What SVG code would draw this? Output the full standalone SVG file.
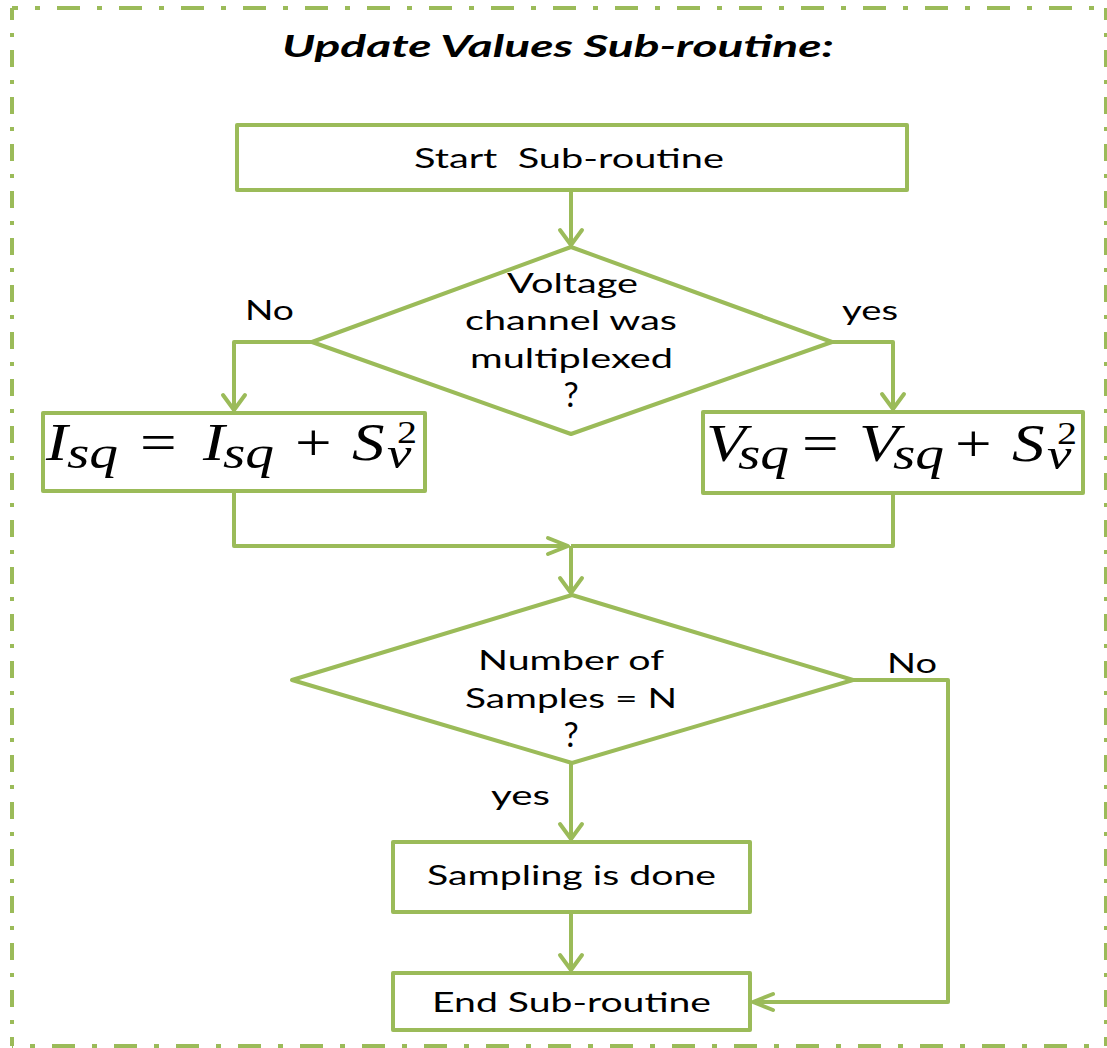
<svg xmlns="http://www.w3.org/2000/svg" width="1107" height="1048" viewBox="0 0 1107 1048">
<style>
.bd{stroke:#9BBB59;stroke-width:4;fill:none}
.hz{stroke-dasharray:23 17 5 17}
.vt{stroke-dasharray:17 13 4 13}
.nd{fill:#fff;stroke:#9BBB59;stroke-width:4;stroke-linejoin:round}
.cn{fill:none;stroke:#9BBB59;stroke-width:4;stroke-linejoin:round}
.t{font-family:Lato,"Liberation Sans",sans-serif;font-size:27px;fill:#000}
.q{font-family:Lato,"Liberation Sans",sans-serif;font-size:34px;fill:#000}
.ttl{font-family:Lato,"Liberation Sans",sans-serif;font-size:30px;font-weight:bold;font-style:italic;fill:#000}
.m{font-family:"Liberation Serif","DejaVu Serif",serif;fill:#000}
.i{font-style:italic}
</style>
<defs>
<marker id="av" markerUnits="userSpaceOnUse" viewBox="-18 -14 20 28" refX="0" refY="0" markerWidth="20" markerHeight="28" orient="auto" overflow="visible">
<path d="M-15,-11 L0,0 L-15,11" fill="none" stroke="#9BBB59" stroke-width="4" stroke-linecap="round" stroke-linejoin="round"/>
</marker>
<marker id="ahz" markerUnits="userSpaceOnUse" viewBox="-22 -10 24 20" refX="0" refY="0" markerWidth="24" markerHeight="20" orient="auto" overflow="visible">
<path d="M-20,-8 L0,0 L-20,8" fill="none" stroke="#9BBB59" stroke-width="4" stroke-linecap="round" stroke-linejoin="round"/>
</marker>
</defs>
<rect x="0" y="0" width="1107" height="1048" fill="#fff"/>
<g id="border">
<line class="bd hz" x1="12" y1="8" x2="1106" y2="8" stroke-dashoffset="17"/>
<line class="bd vt" x1="12" y1="8" x2="12" y2="1046" stroke-dashoffset="5"/>
<line class="bd vt" x1="1106" y1="8" x2="1106" y2="1046" stroke-dashoffset="5"/>
<line class="bd hz" x1="12" y1="1046" x2="1106" y2="1046" stroke-dashoffset="22"/>
</g>
<text id="title" class="ttl" x="282" y="57" textLength="552" lengthAdjust="spacingAndGlyphs">Update Values Sub-routine:</text>
<g id="connectors">
<path class="cn" d="M571,190 V245" marker-end="url(#av)"/>
<path class="cn" d="M312,342 H234 V410" marker-end="url(#av)"/>
<path class="cn" d="M832,342 H893 V409" marker-end="url(#av)"/>
<path class="cn" d="M234,491 V546 H568" marker-end="url(#ahz)"/>
<path class="cn" d="M893,493 V546 H571"/>
<path class="cn" d="M571,546 V593" marker-end="url(#av)"/>
<path class="cn" d="M571,763 V839" marker-end="url(#av)"/>
<path class="cn" d="M571,912 V970" marker-end="url(#av)"/>
<path class="cn" d="M853,680 H948 V1002 H753" marker-end="url(#ahz)"/>
<text class="t" x="245" y="320" textLength="49" lengthAdjust="spacingAndGlyphs">No</text>
<text class="t" x="842" y="320" textLength="56" lengthAdjust="spacingAndGlyphs">yes</text>
<text class="t" x="887" y="673" textLength="50" lengthAdjust="spacingAndGlyphs">No</text>
<text class="t" x="491" y="805" textLength="59" lengthAdjust="spacingAndGlyphs">yes</text>
</g>
<g id="start">
<rect class="nd" x="237" y="125" width="670" height="65"/>
<text class="t" x="414" y="168" textLength="310" lengthAdjust="spacingAndGlyphs" xml:space="preserve">Start  Sub-routine</text>
</g>
<g id="decision1">
<polygon class="nd" points="571,247 832,342 571,434 312,342"/>
<text class="t" x="507" y="293" textLength="131" lengthAdjust="spacingAndGlyphs">Voltage</text>
<text class="t" x="465" y="330" textLength="212" lengthAdjust="spacingAndGlyphs">channel was</text>
<text class="t" x="470" y="368" textLength="203" lengthAdjust="spacingAndGlyphs">multiplexed</text>
<text class="q" x="571" y="407" text-anchor="middle">?</text>
</g>
<g id="isq">
<rect class="nd" x="43" y="413" width="382" height="78"/>
<text class="m" transform="scale(1.25,1)"><tspan class="i" font-size="52" x="36.8" y="460">I</tspan><tspan class="i" font-size="46" x="53.6" y="468">sq</tspan><tspan font-size="52" x="112" y="460">=</tspan><tspan class="i" font-size="52" x="162.4" y="460">I</tspan><tspan class="i" font-size="46" x="178.4" y="468">sq</tspan><tspan font-size="52" x="236" y="460">+</tspan><tspan class="i" font-size="52" x="281.6" y="460">S</tspan><tspan class="i" font-size="44" x="309.6" y="468">v</tspan><tspan font-size="32" x="317.6" y="443">2</tspan></text>
</g>
<g id="vsq">
<rect class="nd" x="703" y="412" width="380" height="81"/>
<text class="m" transform="scale(1.25,1)"><tspan class="i" font-size="52" x="564.8" y="461">V</tspan><tspan class="i" font-size="46" x="590.4" y="469">sq</tspan><tspan font-size="52" x="641.6" y="461">=</tspan><tspan class="i" font-size="52" x="687.2" y="461">V</tspan><tspan class="i" font-size="46" x="714.4" y="469">sq</tspan><tspan font-size="52" x="764" y="461">+</tspan><tspan class="i" font-size="52" x="809.6" y="461">S</tspan><tspan class="i" font-size="44" x="837.6" y="469">v</tspan><tspan font-size="32" x="845.6" y="444">2</tspan></text>
</g>
<g id="decision2">
<polygon class="nd" points="572,595 853,680 572,763 292,680"/>
<text class="t" x="478" y="670" textLength="186" lengthAdjust="spacingAndGlyphs">Number of</text>
<text class="t" x="465" y="708" textLength="212" lengthAdjust="spacingAndGlyphs">Samples = N</text>
<text class="q" x="571" y="747" text-anchor="middle">?</text>
</g>
<g id="sampling">
<rect class="nd" x="393" y="842" width="357" height="70"/>
<text class="t" x="427" y="885" textLength="289" lengthAdjust="spacingAndGlyphs">Sampling is done</text>
</g>
<g id="end">
<rect class="nd" x="393" y="973" width="357" height="57"/>
<text class="t" x="432" y="1012" textLength="279" lengthAdjust="spacingAndGlyphs">End Sub-routine</text>
</g>
</svg>
